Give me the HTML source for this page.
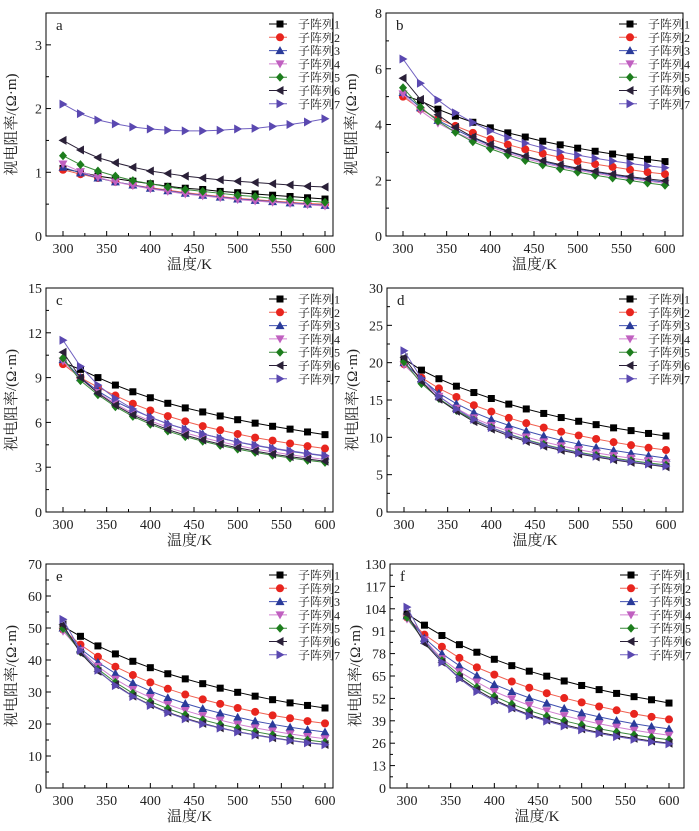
<!DOCTYPE html>
<html><head><meta charset="utf-8"><style>
body{margin:0;background:#fff}
svg{display:block;font-family:"Liberation Serif","Noto Serif CJK SC",serif}
</style></head><body>
<svg id="c" width="699" height="831" viewBox="0 0 699 831" xmlns="http://www.w3.org/2000/svg"></svg>
<script>
const temps=[300,320,340,360,380,400,420,440,460,480,500,520,540,560,580,600];
const seriesNames=["子阵列1","子阵列2","子阵列3","子阵列4","子阵列5","子阵列6","子阵列7"];
const xTicks=[300,350,400,450,500,550,600];
const aS1=[1.06,1.00,0.94,0.90,0.86,0.82,0.78,0.75,0.73,0.70,0.68,0.66,0.64,0.62,0.60,0.58];
const aS2=[1.04,0.97,0.91,0.85,0.80,0.76,0.72,0.68,0.65,0.62,0.59,0.57,0.55,0.53,0.51,0.50];
const aS3=[1.08,0.99,0.91,0.85,0.80,0.75,0.71,0.67,0.64,0.61,0.58,0.56,0.54,0.52,0.50,0.48];
const aS4=[1.13,1.01,0.92,0.85,0.79,0.74,0.70,0.66,0.63,0.60,0.57,0.55,0.53,0.51,0.49,0.47];
const aS5=[1.26,1.12,1.02,0.94,0.87,0.82,0.77,0.73,0.70,0.67,0.64,0.62,0.59,0.57,0.55,0.53];
const aS6=[1.50,1.35,1.23,1.15,1.08,1.02,0.98,0.94,0.91,0.88,0.86,0.84,0.82,0.80,0.78,0.77];
const aS7=[2.07,1.92,1.82,1.76,1.71,1.68,1.66,1.65,1.65,1.66,1.68,1.69,1.72,1.75,1.79,1.84];
const bS1=[5.05,4.85,4.55,4.3,4.08,3.88,3.7,3.55,3.4,3.27,3.15,3.04,2.94,2.84,2.75,2.67];
const bS2=[5.0,4.55,4.2,3.95,3.7,3.47,3.28,3.11,2.96,2.82,2.69,2.58,2.48,2.38,2.29,2.22];
const bS3=[5.15,4.6,4.15,3.82,3.52,3.25,3.03,2.84,2.67,2.52,2.40,2.29,2.19,2.10,2.01,1.93];
const bS4=[5.1,4.5,4.05,3.72,3.45,3.2,2.98,2.78,2.62,2.48,2.36,2.25,2.15,2.06,1.97,1.89];
const bS5=[5.32,4.62,4.12,3.72,3.38,3.13,2.91,2.71,2.55,2.41,2.29,2.18,2.08,1.99,1.90,1.82];
const bS6=[5.66,4.9,4.35,3.9,3.55,3.28,3.05,2.86,2.70,2.56,2.43,2.32,2.22,2.13,2.05,1.98];
const bS7=[6.35,5.48,4.88,4.42,4.07,3.77,3.53,3.33,3.16,3.02,2.9,2.79,2.69,2.60,2.52,2.45];
const cS1=[10.0,9.55,9.0,8.5,8.05,7.65,7.28,6.97,6.7,6.43,6.18,5.95,5.74,5.55,5.36,5.18];
const cS2=[9.9,9.0,8.35,7.8,7.25,6.8,6.42,6.07,5.75,5.48,5.22,4.98,4.78,4.59,4.41,4.25];
const cS3=[10.2,9.0,8.1,7.4,6.85,6.35,5.9,5.55,5.22,4.95,4.68,4.45,4.25,4.06,3.9,3.75];
const cS4=[10.1,8.9,8.0,7.25,6.6,6.1,5.67,5.3,4.98,4.7,4.45,4.22,4.02,3.84,3.67,3.52];
const cS5=[10.3,8.8,7.85,7.05,6.4,5.88,5.42,5.05,4.74,4.46,4.21,3.99,3.8,3.62,3.46,3.32];
const cS6=[10.7,9.0,7.95,7.15,6.5,5.98,5.52,5.15,4.82,4.55,4.30,4.08,3.88,3.71,3.55,3.40];
const cS7=[11.5,9.75,8.5,7.6,6.9,6.35,5.9,5.55,5.22,4.95,4.70,4.48,4.28,4.1,3.93,3.78];
const dS1=[20.5,19.0,17.85,16.85,16.0,15.2,14.45,13.8,13.2,12.65,12.15,11.7,11.27,10.9,10.52,10.18];
const dS2=[19.8,18.0,16.55,15.4,14.3,13.45,12.6,11.9,11.3,10.75,10.25,9.78,9.35,8.95,8.6,8.3];
const dS3=[20.0,17.8,15.9,14.5,13.35,12.4,11.6,10.85,10.2,9.6,9.1,8.65,8.25,7.88,7.55,7.22];
const dS4=[19.7,17.5,15.5,13.9,12.6,11.6,10.8,10.05,9.4,8.85,8.35,7.92,7.55,7.2,6.88,6.6];
const dS5=[20.1,17.2,15.2,13.6,12.3,11.3,10.45,9.7,9.05,8.5,8.0,7.6,7.22,6.88,6.58,6.3];
const dS6=[20.7,17.5,15.1,13.5,12.1,11.1,10.2,9.45,8.8,8.25,7.78,7.36,6.98,6.64,6.34,6.05];
const dS7=[21.6,17.9,15.5,13.8,12.4,11.3,10.4,9.6,8.95,8.4,7.9,7.47,7.08,6.74,6.43,6.15];
const eS1=[50.5,47.4,44.4,41.9,39.6,37.6,35.7,34.1,32.6,31.2,29.9,28.7,27.6,26.6,25.8,25.0];
const eS2=[49.5,44.8,41.0,37.9,35.3,33.0,31.0,29.2,27.7,26.3,25.0,23.8,22.7,21.8,20.9,20.2];
const eS3=[50.0,43.5,39.3,35.8,32.8,30.3,28.2,26.4,24.8,23.4,22.1,20.9,19.9,19.0,18.2,17.5];
const eS4=[49.0,43.0,38.0,34.0,30.8,28.3,26.1,24.2,22.6,21.2,19.9,18.8,17.8,16.9,16.1,15.4];
const eS5=[49.8,42.5,37.2,33.0,29.6,27.0,24.8,22.9,21.3,19.9,18.7,17.6,16.6,15.8,15.0,14.3];
const eS6=[51.0,42.2,36.5,32.3,28.7,26.0,23.7,21.8,20.2,18.8,17.6,16.6,15.7,14.9,14.2,13.6];
const eS7=[52.7,43.0,36.8,32.0,28.6,25.8,23.5,21.6,20.0,18.7,17.5,16.5,15.6,14.8,14.1,13.5];
const fS1=[101,94.5,88.5,83.2,78.8,74.7,71.0,67.8,64.9,62.1,59.5,57.1,54.9,53.0,51.2,49.3];
const fS2=[99,89,82,75.5,70.0,65.8,61.8,58.2,55.0,52.2,49.7,47.3,45.1,43.0,41.3,39.8];
const fS3=[100,87,78,71,65.2,60.1,56.0,52.3,49.2,46.2,43.6,41.3,39.2,37.3,35.7,34.3];
const fS4=[98,86,75,67.5,61.5,56.0,51.8,48.0,44.8,42.0,39.5,37.3,35.3,33.5,32.0,30.6];
const fS5=[99,85,74,65.5,58.5,53.2,48.7,44.9,41.7,39.0,36.6,34.4,32.5,30.8,29.3,28.0];
const fS6=[101,84,73,64,57,51.2,46.5,42.6,39.4,36.7,34.3,32.2,30.4,28.8,27.3,26.0];
const fS7=[105,86,73,63.5,56,50.5,46,42,38.8,36,33.7,31.6,29.8,28.2,26.8,25.6];

const colors=["#000000","#e8251e","#2a3b9a","#c060c0","#1d7d1d","#2a2038","#5a48b0"];
const lineColors=["#000000","#f06050","#4050b0","#d080d0","#3a8a3a","#2a2038","#7060c0"];
const panels=[
 {id:"a",l:46,r:333,t:13,b:236,x0:63,x1:325,ymax:3.5,step:1,data:[aS1,aS2,aS3,aS4,aS5,aS6,aS7]},
 {id:"b",l:386,r:683,t:13,b:236,x0:403,x1:665,ymax:8,step:2,data:[bS1,bS2,bS3,bS4,bS5,bS6,bS7]},
 {id:"c",l:46,r:333,t:288,b:512,x0:63,x1:325,ymax:15,step:3,data:[cS1,cS2,cS3,cS4,cS5,cS6,cS7]},
 {id:"d",l:387,r:683,t:288,b:512,x0:404,x1:666,ymax:30,step:5,data:[dS1,dS2,dS3,dS4,dS5,dS6,dS7]},
 {id:"e",l:46,r:333,t:564,b:788,x0:63,x1:325,ymax:70,step:10,data:[eS1,eS2,eS3,eS4,eS5,eS6,eS7]},
 {id:"f",l:390,r:684,t:564,b:788,x0:407,x1:669,ymax:130,step:13,data:[fS1,fS2,fS3,fS4,fS5,fS6,fS7]}
];
const NS="http://www.w3.org/2000/svg";
const svg=document.getElementById("c");
function mk(tag,attrs,parent,text){const e=document.createElementNS(NS,tag);for(const k in attrs)e.setAttribute(k,attrs[k]);if(text!==undefined)e.textContent=text;(parent||svg).appendChild(e);return e;}
function marker(g,k,x,y,c){const s=4;let e;
 if(k===0)e=mk("rect",{x:x-s+0.5,y:y-s+0.5,width:2*s-1,height:2*s-1,fill:c},g);
 else if(k===1)e=mk("circle",{cx:x,cy:y,r:s,fill:c},g);
 else{let p;
  if(k===2)p=[[x,y-s-0.5],[x+s+0.5,y+s-0.5],[x-s-0.5,y+s-0.5]];
  else if(k===3)p=[[x,y+s+0.5],[x+s+0.5,y-s+0.5],[x-s-0.5,y-s+0.5]];
  else if(k===4)p=[[x,y-s-0.5],[x+s,y],[x,y+s+0.5],[x-s,y]];
  else if(k===5)p=[[x-s-0.5,y],[x+s-0.5,y-s-0.5],[x+s-0.5,y+s+0.5]];
  else p=[[x+s+0.5,y],[x-s+0.5,y-s-0.5],[x-s+0.5,y+s+0.5]];
  e=mk("polygon",{points:p.map(q=>q.join(",")).join(" "),fill:c},g);}
 return e;}
panels.forEach(P=>{
 const g=mk("g",{});
 
 
 const X=v=>P.x0+(v-300)*(P.x1-P.x0)/300;
 const Y=v=>P.b-v*(P.b-P.t)/P.ymax;
 const box=mk("rect",{x:P.l,y:P.t,width:P.r-P.l,height:P.b-P.t,fill:"none",stroke:"#000","stroke-width":1},g);
 
 
 xTicks.forEach(t=>{const x=X(t);
  mk("line",{x1:x,y1:P.b,x2:x,y2:P.b-5,stroke:"#000"},g);
  if(t<600){const xm=X(t+25);mk("line",{x1:xm,y1:P.b,x2:xm,y2:P.b-3,stroke:"#000"},g);}
  const lb=mk("text",{x:x,y:P.b+17,"text-anchor":"middle","font-size":14,fill:"#222"},g,String(t));
  
  
 });
 for(let v=0;v<=P.ymax+1e-9;v+=P.step/2){const y=Y(v);const major=Math.abs(v/P.step-Math.round(v/P.step))<1e-6;
  mk("line",{x1:P.l,y1:y,x2:P.l+(major?5:3),y2:y,stroke:"#000"},g);
  if(major){const lb=mk("text",{x:P.l-4,y:y+5,"text-anchor":"end","font-size":14,fill:"#222"},g,String(Math.round(v)));
   
   }
 }
 const xt=mk("text",{x:(P.l+P.r)/2,y:P.b+33,"text-anchor":"middle","font-size":15,fill:"#222"},g,"温度/K");
 
 
 const yx=P.l-30,yy=(P.t+P.b)/2;
 const yt=mk("text",{x:yx,y:yy,"text-anchor":"middle","font-size":15,fill:"#222",transform:`rotate(-90 ${yx} ${yy})`},g,"视电阻率/(Ω·m)");
 
 
 const pl=mk("text",{x:P.l+10,y:P.t+17,"font-size":15,fill:"#222"},g,P.id);
 
 
 P.data.forEach((arr,k)=>{
  const sg=mk("g",{},g);
  
  
  mk("polyline",{points:arr.map((v,i)=>X(temps[i])+","+Y(v)).join(" "),fill:"none",stroke:lineColors[k],"stroke-width":1},sg);
  arr.forEach((v,i)=>{const m=marker(sg,k,X(temps[i]),Y(v),colors[k]);
   
   });
 });
 const lx=P.r-64;
 seriesNames.forEach((n,k)=>{const y=P.t+11+k*13.3;
  const lg=mk("g",{},g);
  
  
  mk("line",{x1:lx,y1:y,x2:lx+18,y2:y,stroke:lineColors[k],"stroke-width":1},lg);
  marker(lg,k,lx+11,y,colors[k]);
  mk("text",{x:lx+29,y:y+4.5,"font-size":12,fill:"#222"},lg,n);
 });
});
</script>
</body></html>
